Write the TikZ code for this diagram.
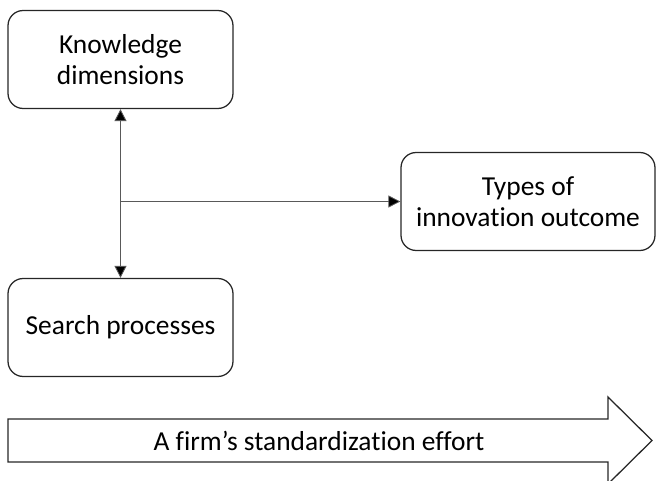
\documentclass[tikz,border=0pt]{standalone}
\usepackage{fontspec}
\setmainfont[Ligatures=CommonOff]{Carlito}
\usepackage{tikz}
\usetikzlibrary{shapes, arrows.meta, positioning}

\begin{document}
\begin{tikzpicture}
  [
    Box/.style={rectangle, rounded corners=0.38cm, draw=black!85, line width=0.9pt,
      minimum width=5.625cm, minimum height=2.45cm, align=center,
      font=\fontsize{19.5}{22}\selectfont},
    Wide/.style={Box, minimum width=6.35cm},
    Link/.style={draw=black!65, line width=0.6pt}
  ]
  \useasboundingbox (0, 0) rectangle (16.475, 12);
  % Nodes
  \node[Box] (know) at(3.0125, 10.5125) {Knowledge\\dimensions};
  \node[Box] (search) at(3.0125, 3.8125) {Search processes};
  \node[Wide] (types) at(13.2, 6.9625) {Types of\\innovation outcome};
  \coordinate (mid) at (know |- types);
  % Effort arrow
  \draw[black!85, line width=0.9pt]
    (0.2, 0.45) -- (15.2, 0.45) -- (15.2, -0.1) -- (16.3, 0.9875) -- (15.2, 2.075)
    -- (15.2, 1.525) -- (0.2, 1.525) -- cycle;
  \node[font=\fontsize{19.5}{22}\selectfont] (effort) at(7.975, 0.9875) {A firm’s standardization effort};
  % Lines
  \path [Link, {Triangle[length=3mm, width=3mm, fill=black]}-{Triangle[length=3mm, width=3mm, fill=black]}] (know) -- (search);
  \path [Link, -{Triangle[length=3mm, width=3mm, fill=black]}] (mid) -- (types);
\end{tikzpicture}
\end{document}
